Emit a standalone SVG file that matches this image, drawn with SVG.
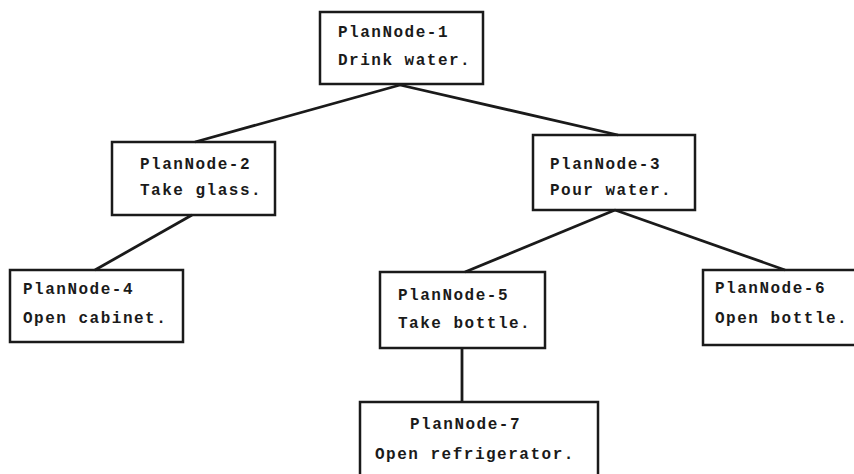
<svg xmlns="http://www.w3.org/2000/svg" width="854" height="474" viewBox="0 0 854 474">
<style>
.box{fill:none;stroke:#1a1a1a;stroke-width:2.5}
.edge{stroke:#1a1a1a;stroke-width:2.8;fill:none}
text{font-family:"Liberation Mono","DejaVu Sans Mono",monospace;font-weight:bold;font-size:16px;letter-spacing:1.5px;fill:#1a1a1a}
</style>
<rect width="854" height="474" fill="#ffffff"/>
<g id="connectors">
<line class="edge" x1="400" y1="85" x2="195" y2="142"/>
<line class="edge" x1="400" y1="85" x2="618" y2="135"/>
<line class="edge" x1="192" y1="215" x2="95" y2="270"/>
<line class="edge" x1="615" y1="210" x2="465" y2="272"/>
<line class="edge" x1="615" y1="210" x2="785" y2="270"/>
<line class="edge" x1="462" y1="348" x2="462" y2="402"/>
</g>
<g id="node1"><rect class="box" x="320" y="12" width="163" height="72"/><text x="338" y="37">PlanNode-1</text><text x="338" y="65">Drink water.</text></g>
<g id="node2"><rect class="box" x="112" y="142" width="163" height="73"/><text x="140" y="169">PlanNode-2</text><text x="140" y="195">Take glass.</text></g>
<g id="node3"><rect class="box" x="533" y="135" width="162" height="75"/><text x="550" y="169">PlanNode-3</text><text x="550" y="195">Pour water.</text></g>
<g id="node4"><rect class="box" x="10" y="270" width="173" height="72"/><text x="23" y="294">PlanNode-4</text><text x="23" y="323">Open cabinet.</text></g>
<g id="node5"><rect class="box" x="380" y="272" width="165" height="76"/><text x="398" y="300">PlanNode-5</text><text x="398" y="328">Take bottle.</text></g>
<g id="node6"><rect class="box" x="703" y="270" width="160" height="75"/><text x="715" y="293">PlanNode-6</text><text x="715" y="323">Open bottle.</text></g>
<g id="node7"><rect class="box" x="360" y="402" width="238" height="80"/><text x="410" y="429">PlanNode-7</text><text x="375" y="459">Open refrigerator.</text></g>
</svg>
